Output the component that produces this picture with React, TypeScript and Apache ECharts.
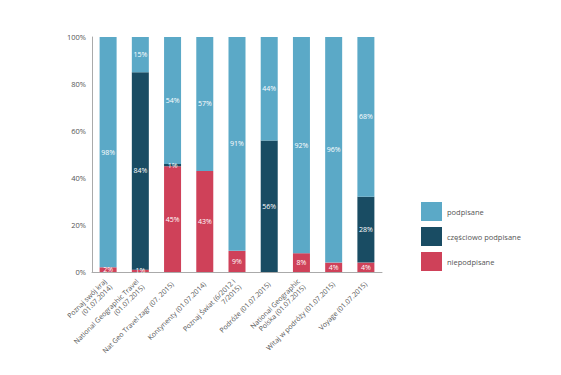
import React, { useEffect, useRef } from "react";
import * as echarts from "echarts";

const categories = [
  "Poznaj swój kraj\n(01.07.2014)",
  "National Geographic Travel\n(01.07.2015)",
  "Nat Geo Travel zagr (07. 2015)",
  "Kontynenty (01.07.2014)",
  "Poznaj Świat (6/2012 i\n7/2015)",
  "Podróże (01.07.2015)",
  "National Geographic\nPolska (01.07.2015)",
  "Witaj w podróży (01.07.2015)",
  "Voyage (01.07.2015)",
];
const niepodpisane = [2, 1, 45, 43, 9, 0, 8, 4, 4];
const czesciowo = [0, 84, 1, 0, 0, 56, 0, 0, 28];
const podpisane = [98, 15, 54, 57, 91, 44, 92, 96, 68];
const yTicks = [0, 20, 40, 60, 80, 100];

const FONT = "'Open Sans', Lato, sans-serif";

export default function App() {
  const ref = useRef<HTMLDivElement>(null);
  useEffect(() => {
    if (!ref.current) return;
    const chart = echarts.init(ref.current, undefined, { renderer: "svg" });
    const label = {
      show: true,
      position: "inside" as const,
      color: "#ffffff",
      fontSize: 7,
      fontFamily: FONT,
      formatter: (p: any) => (p.value > 0 ? p.value + "%" : ""),
    };
    const mk = (name: string, data: number[], color: string) => ({
      name,
      type: "bar",
      stack: "total",
      data,
      barWidth: 17,
      itemStyle: { color },
      label,
    });
    chart.setOption({
      animation: false,
      textStyle: { fontFamily: FONT },
      grid: { left: 84, right: 171, top: 29, bottom: 95, containLabel: false },
      legend: {
        orient: "vertical",
        left: 408,
        top: 189,
        itemWidth: 21,
        itemHeight: 19,
        itemGap: 6,
        icon: "rect",
        data: ["podpisane", "częściowo podpisane", "niepodpisane"],
        textStyle: { fontSize: 7.5, color: "#555", fontFamily: FONT },
      },
      xAxis: {
        type: "category",
        data: categories,
        axisLine: { show: true, lineStyle: { color: "#aaa" } },
        axisTick: { show: false },
        axisLabel: {
          rotate: 45,
          interval: 0,
          fontSize: 7,
          color: "#555",
          fontFamily: FONT,
          lineHeight: 8,
          margin: 11,
        },
      },
      yAxis: {
        type: "value",
        min: yTicks[0],
        max: yTicks[yTicks.length - 1],
        interval: 20,
        axisLine: { show: true, lineStyle: { color: "#aaa" } },
        axisTick: { show: false },
        splitLine: { show: false },
        axisLabel: {
          formatter: "{value}%",
          fontSize: 7.5,
          color: "#555",
          fontFamily: FONT,
          margin: 6,
        },
      },
      series: [
        mk("niepodpisane", niepodpisane, "#cf4159"),
        mk("częściowo podpisane", czesciowo, "#194c63"),
        mk("podpisane", podpisane, "#5ba9c7"),
      ],
    });
    return () => chart.dispose();
  }, []);
  return <div ref={ref} style={{ width: 545, height: 359 }} />;
}
